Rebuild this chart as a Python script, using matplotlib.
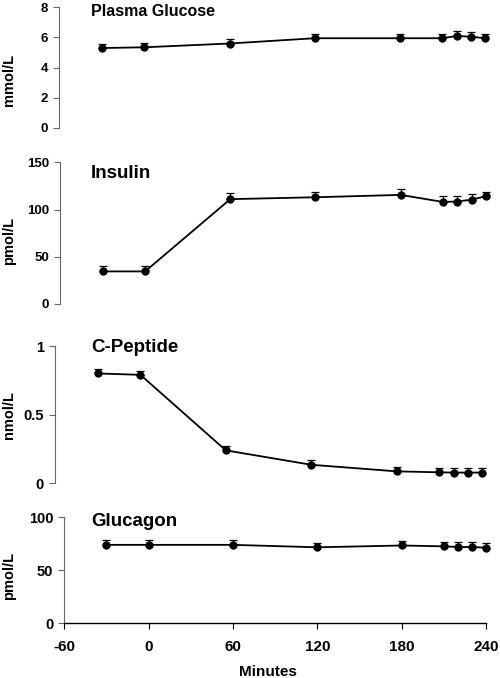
import matplotlib.pyplot as plt
import numpy as np

plt.rcParams['font.family'] = ['Liberation Sans', 'DejaVu Sans']
plt.rcParams['font.weight'] = 'bold'

# sampling times (minutes)
minutes = [-30, 0, 60, 120, 180, 210, 220, 230, 240]

glucose = [5.3, 5.35, 5.6, 5.95, 5.95, 5.95, 6.1, 6.05, 5.95]
glucose_err = [0.3, 0.3, 0.3, 0.3, 0.3, 0.3, 0.3, 0.3, 0.3]

insulin = [34.5, 34.5, 111, 113, 115.5, 108, 108.5, 110.5, 114]
insulin_err = [5.5, 5.5, 6, 6, 6.5, 6, 6, 5.5, 5]

cpeptide = [0.80, 0.79, 0.24, 0.135, 0.087, 0.08, 0.078, 0.078, 0.078]
cpeptide_err = [0.035, 0.03, 0.035, 0.035, 0.035, 0.035, 0.035, 0.035, 0.035]

glucagon = [74, 74, 74, 71.7, 73.4, 72.6, 72, 72, 71.3]
glucagon_err = [4.5, 4.5, 4.5, 4.5, 4.5, 4.5, 4.5, 4.5, 4.5]

W, H = 500, 678
fig = plt.figure(figsize=(W/100, H/100), dpi=100)

def rect(x0, x1, ytop, ybot):
    return [x0/W, (H-ybot)/H, (x1-x0)/W, (ybot-ytop)/H]

panels = [
    # name, values, err, ylim, yticks, tick labels, unit, rect, tick size, title size, title y, ylabel y
    ('Plasma Glucose', glucose, glucose_err, 8, [0, 2, 4, 6, 8], ['0', '2', '4', '6', '8'],
     'mmol/L', rect(59.3, 485, 7.3, 128), 9.5, 11.5, 12, 80),
    ('Insulin', insulin, insulin_err, 150, [0, 50, 100, 150], ['0', '50', '100', '150'],
     'pmol/L', rect(60, 485.7, 162.3, 304), 9.5, 13.5, 173, 241),
    ('C-Peptide', cpeptide, cpeptide_err, 1, [0, 0.5, 1], ['0', '0.5', '1'],
     'nmol/L', rect(55, 482, 346, 483.3), 10.5, 13.5, 347, 415),
    ('Glucagon', glucagon, glucagon_err, 100, [0, 50, 100], ['0', '50', '100'],
     'pmol/L', rect(64.3, 486, 517.3, 623.3), 10.5, 13.5, 522, 576),
]

for i, (name, vals, err, ytop, yt, ytl, unit, r, fs, tfs, ty, ly) in enumerate(panels):
    ax = fig.add_axes(r)
    low = np.zeros(len(err))
    ax.errorbar(minutes, vals, yerr=[low, err], color='black', lw=1.3, marker='o',
                markersize=5, capsize=3, elinewidth=0.9, capthick=0.9, clip_on=False)
    ax.set_xlim(-60, 240)
    ax.set_ylim(0, ytop)
    ax.set_yticks(yt)
    ax.set_yticklabels(ytl, fontsize=fs, fontweight='bold')
    ax.spines['top'].set_visible(False)
    ax.spines['right'].set_visible(False)
    ax.spines['left'].set_color('#666666')
    ax.tick_params(axis='y', length=4, width=0.8, color='#666666', pad=4)
    ax.patch.set_alpha(0)
    if i < 3:
        ax.spines['bottom'].set_visible(False)
        ax.set_xticks([])
    else:
        ax.set_xticks([-60, 0, 60, 120, 180, 240])
        ax.set_xticklabels(['-60', '0', '60', '120', '180', '240'], fontsize=11, fontweight='bold')
        ax.tick_params(axis='x', length=4, width=0.8, pad=8)
        ax.spines['bottom'].set_linewidth(1.0)
    fig.text(91/W, 1 - ty/H, name, fontsize=tfs, fontweight='bold', ha='left', va='center')
    fig.text(9/W, 1 - ly/H, unit, fontsize=10.5, fontweight='bold', rotation=90,
             ha='center', va='center')

fig.text(268/W, 1 - 672/H, 'Minutes', fontsize=11, fontweight='bold', ha='center', va='center')

fig.savefig('out.png', dpi=100)
